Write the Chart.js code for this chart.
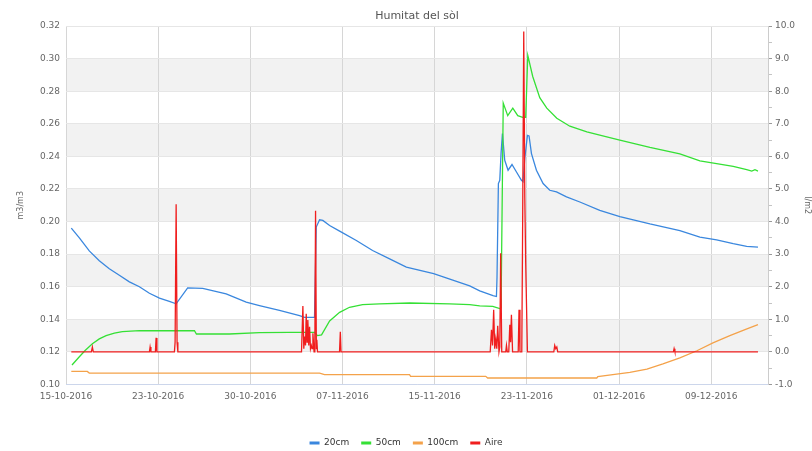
<!DOCTYPE html>
<html>
<head>
<meta charset="utf-8">
<script src="https://cdn.jsdelivr.net/npm/chart.js@4.4.1/dist/chart.umd.min.js"></script>
<style>
  html, body { margin: 0; padding: 0; background: #fff; }
  #wrap { width: 812px; height: 451px; position: relative; }
</style>
</head>
<body>
<div id="wrap"><canvas id="chart"></canvas></div>
<script>
// Date labels placed every 8 days along the time axis (days since 15-10-2016)
const dateLabels = ['15-10-2016', '23-10-2016', '30-10-2016', '07-11-2016',
                    '15-11-2016', '23-11-2016', '01-12-2016', '09-12-2016'];
const leftTicks = [0.10, 0.12, 0.14, 0.16, 0.18, 0.20, 0.22, 0.24, 0.26, 0.28, 0.30, 0.32];
const rightTicks = [-1, 0, 1, 2, 3, 4, 5, 6, 7, 8, 9, 10];

// Soil moisture (m3/m3) as [day, value]
const soil20cm = [
  [0.46, 0.196], [1.16, 0.190], [2.02, 0.182], [2.89, 0.176], [3.76, 0.171], [4.63, 0.167],
  [5.50, 0.163], [6.37, 0.160], [7.24, 0.156], [8.11, 0.153], [8.97, 0.151], [9.56, 0.1495],
  [10.56, 0.1593], [11.87, 0.159], [13.90, 0.1556], [15.64, 0.1505], [16.79, 0.1484],
  [18.53, 0.1455], [20.27, 0.1423], [20.70, 0.1412], [21.57, 0.1412], [21.72, 0.1966],
  [22.01, 0.2011], [22.29, 0.2007], [22.88, 0.1976], [23.75, 0.1941], [25.20, 0.1884],
  [26.61, 0.1822], [28.09, 0.1771], [29.54, 0.1720], [31.91, 0.1680], [35.04, 0.1605],
  [35.91, 0.1575], [37.06, 0.1546], [37.36, 0.1540], [37.41, 0.1660], [37.53, 0.2233],
  [37.65, 0.2253], [37.76, 0.2417], [37.88, 0.2540], [38.08, 0.2376], [38.37, 0.2315],
  [38.71, 0.2350], [39.10, 0.2304], [39.53, 0.2253], [39.67, 0.2245], [39.82, 0.2387],
  [40.05, 0.2529], [40.19, 0.2525], [40.40, 0.2417], [40.83, 0.2315], [41.41, 0.2233],
  [41.99, 0.2192], [42.57, 0.2182], [43.44, 0.2151], [44.60, 0.2120], [46.33, 0.2069],
  [48.07, 0.2030], [50.68, 0.1985], [53.28, 0.1945], [55.02, 0.1905], [56.47, 0.1888],
  [57.91, 0.1864], [59.08, 0.1848], [60.06, 0.1843]
];
const soil50cm = [
  [0.52, 0.112], [1.16, 0.117], [1.68, 0.121], [2.29, 0.125], [2.89, 0.128], [3.48, 0.130],
  [4.20, 0.1315], [4.89, 0.1325], [6.37, 0.133], [9.50, 0.133], [11.15, 0.133], [11.32, 0.131],
  [14.18, 0.131], [16.79, 0.1318], [19.40, 0.132], [21.57, 0.132], [21.83, 0.130],
  [22.18, 0.1305], [22.88, 0.139], [23.75, 0.1443], [24.61, 0.1474], [25.74, 0.149],
  [27.22, 0.1495], [29.82, 0.150], [33.30, 0.1495], [35.04, 0.149], [35.91, 0.1483],
  [37.04, 0.148], [37.65, 0.1466], [37.76, 0.147], [37.95, 0.2727], [38.34, 0.265],
  [38.78, 0.2696], [39.21, 0.265], [39.64, 0.264], [39.90, 0.264], [40.08, 0.302],
  [40.51, 0.289], [41.12, 0.276], [41.73, 0.2696], [42.60, 0.2634], [43.73, 0.2585],
  [45.21, 0.255], [46.33, 0.253], [48.07, 0.250], [50.68, 0.2455], [53.28, 0.2415],
  [55.02, 0.2372], [56.47, 0.2356], [57.91, 0.2339], [59.08, 0.2319], [59.52, 0.231],
  [59.80, 0.2318], [60.06, 0.231]
];
const soil100cm = [
  [0.46, 0.108], [1.85, 0.108], [2.02, 0.107], [22.01, 0.107], [22.44, 0.106], [29.82, 0.106],
  [29.91, 0.105], [36.43, 0.105], [36.60, 0.104], [46.07, 0.104], [46.16, 0.1048],
  [47.46, 0.106], [48.94, 0.1074], [50.42, 0.1095], [51.81, 0.1126], [53.28, 0.1163],
  [54.76, 0.1207], [56.15, 0.1255], [57.62, 0.130], [59.10, 0.1341], [60.06, 0.1367]
];
// Rainfall (l/m2) as [day, value]
const rainfall = [
  [0.46, 0], [2.20, 0], [2.29, 0.15], [2.37, 0], [7.24, 0], [7.30, 0.15], [7.37, 0],
  [7.76, 0], [7.82, 0.43], [7.89, 0], [9.41, 0], [9.47, 0.3], [9.56, 4.53], [9.64, 0.3],
  [9.71, 0], [20.44, 0], [20.56, 1.41], [20.64, 0.1], [20.70, 0.47], [20.79, 0.2],
  [20.85, 1.17], [20.92, 0.3], [20.99, 0.98], [21.07, 0.2], [21.14, 0.77], [21.22, 0.1],
  [21.29, 0.2], [21.36, 0.1], [21.43, 0.57], [21.53, 0], [21.60, 0.3], [21.66, 4.33],
  [21.73, 0.1], [21.77, 0.37], [21.83, 0], [23.74, 0], [23.81, 0.62], [23.87, 0],
  [36.82, 0], [36.93, 0.68], [37.02, 0.2], [37.12, 1.29], [37.21, 0.1], [37.30, 0.4],
  [37.39, 0.1], [37.47, 0.8], [37.58, 0], [37.65, 0.15], [37.73, 3.03], [37.82, 0],
  [38.17, 0], [38.23, 0.2], [38.30, 0], [38.43, 0], [38.52, 0.83], [38.59, 0.3],
  [38.66, 1.14], [38.76, 0], [39.25, 0], [39.32, 1.29], [39.40, 0], [39.56, 0],
  [39.62, 3.12], [39.73, 9.83], [39.82, 4.76], [39.90, 2.72], [40.05, 0], [42.34, 0],
  [42.42, 0.2], [42.51, 0.1], [42.60, 0.15], [42.68, 0], [52.72, 0], [52.78, 0.1],
  [52.85, 0], [60.06, 0]
];

const FONT = 'DejaVu Sans';
const toPoints = arr => arr.map(([x, y]) => ({ x, y }));

// Alternating horizontal bands behind the plot
const bandsPlugin = {
  id: 'bands',
  beforeDraw(chart) {
    const { ctx, chartArea, scales } = chart;
    ctx.save();
    ctx.fillStyle = '#f2f2f2';
    for (let i = 1; i + 1 < leftTicks.length; i += 2) {
      const yTop = scales.y.getPixelForValue(leftTicks[i + 1]);
      const yBot = scales.y.getPixelForValue(leftTicks[i]);
      ctx.fillRect(chartArea.left, yTop, chartArea.right - chartArea.left, yBot - yTop);
    }
    ctx.restore();
  }
};

const line = (label, data, color, axis, order) => ({
  label, data: toPoints(data), yAxisID: axis, order,
  borderColor: color, backgroundColor: color, borderWidth: 1.3,
  pointRadius: 0, tension: 0, fill: false
});

new Chart(document.getElementById('chart'), {
  type: 'line',
  data: {
    datasets: [
      line('20cm', soil20cm, '#3a87de', 'y', 4),
      line('50cm', soil50cm, '#35e035', 'y', 3),
      line('100cm', soil100cm, '#f4a24a', 'y', 2),
      line('Aire', rainfall, '#f01e1e', 'y1', 1)
    ]
  },
  options: {
    responsive: true,
    maintainAspectRatio: false,
    animation: false,
    events: [],
    layout: { padding: { top: 0, left: 0, right: 0, bottom: -6.5 } },
    plugins: {
      title: {
        display: true, text: 'Humitat del sòl', fullSize: false,
        color: '#555', font: { family: FONT, size: 11, weight: 'normal' },
        padding: { top: 9.4, bottom: 3.4 }
      },
      legend: {
        position: 'bottom',
        labels: {
          boxWidth: 10, boxHeight: 3, padding: 12, color: '#333',
          font: { family: FONT, size: 9 },
          sort: (a, b) => a.datasetIndex - b.datasetIndex,
          generateLabels: chart =>
            Chart.defaults.plugins.legend.labels.generateLabels(chart)
              .map(l => ({ ...l, lineWidth: 0 }))
        }
      },
      tooltip: { enabled: false }
    },
    scales: {
      x: {
        type: 'linear', min: 0, max: 60.93,
        afterBuildTicks: s => { s.ticks = dateLabels.map((_, i) => ({ value: i * 8 })); },
        afterFit: s => { s.height = 42; },
        ticks: {
          autoSkip: false, maxRotation: 0, padding: 7, color: '#666',
          font: { family: FONT, size: 9 },
          callback: v => dateLabels[Math.round(v / 8)]
        },
        grid: { color: '#d6d6d6', drawTicks: false },
        border: { color: '#ccd6eb' }
      },
      y: {
        position: 'left', min: 0.10, max: 0.32,
        afterBuildTicks: s => { s.ticks = leftTicks.map(v => ({ value: v })); },
        afterFit: s => { s.width = 66; },
        ticks: {
          autoSkip: false, padding: 6, color: '#666',
          font: { family: FONT, size: 9 },
          callback: v => v.toFixed(2)
        },
        grid: { color: '#e6e6e6', drawTicks: false },
        border: { display: false },
        title: {
          display: true, text: 'm3/m3', color: '#666',
          font: { family: FONT, size: 8 }, padding: { top: 15.7, bottom: 0 }
        }
      },
      y1: {
        position: 'right', min: -1, max: 10,
        afterBuildTicks: s => {
          const t = [];
          rightTicks.forEach((v, i) => {
            t.push({ value: v });
            if (i + 1 < rightTicks.length) t.push({ value: (v + rightTicks[i + 1]) / 2 });
          });
          s.ticks = t;
        },
        afterFit: s => { s.width = 44; },
        ticks: {
          autoSkip: false, padding: 3, color: '#666',
          font: { family: FONT, size: 9 },
          callback: v => (Number.isInteger(v) ? v.toFixed(1) : '')
        },
        grid: {
          drawOnChartArea: false, drawTicks: true, tickLength: 4,
          tickColor: c => (Number.isInteger(c.tick.value) ? '#999' : '#c4c4c4')
        },
        border: { display: true, color: '#cccccc' },
        title: {
          display: true, text: 'l/m2', color: '#666',
          font: { family: FONT, size: 8 }, padding: { top: 0, bottom: 0 }
        }
      }
    }
  },
  plugins: [bandsPlugin]
});
</script>
</body>
</html>
